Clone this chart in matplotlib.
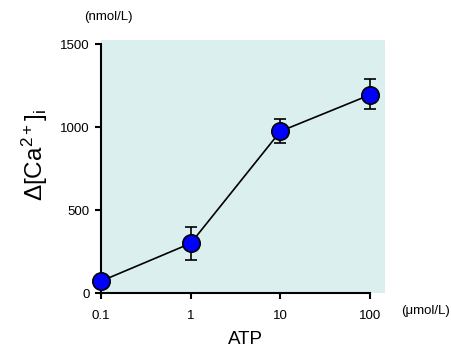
import matplotlib
matplotlib.use("Agg")
import matplotlib.pyplot as plt

plt.rcParams['font.family'] = ['Liberation Sans', 'DejaVu Sans']

# ATP dose response
atp = [0.1, 1, 10, 100]
dca = [72, 300, 975, 1195]
err_lo = [0, 100, 72, 87]
err_hi = [0, 100, 75, 95]
yticks = [0, 500, 1000, 1500]
xticks = [0.1, 1, 10, 100]
xticklabels = ["0.1", "1", "10", "100"]

fig = plt.figure(figsize=(4.51, 3.51), dpi=100)
ax = fig.add_axes([0.224, 0.165, 0.63, 0.721])
ax.set_facecolor("#dbefee")

ax.errorbar(atp, dca, yerr=[err_lo, err_hi], color="black", linewidth=1.2,
            elinewidth=1.2, capsize=4, capthick=1.2, marker="o", markersize=12.5,
            markerfacecolor="#0000ff", markeredgecolor="black", markeredgewidth=1.2,
            zorder=3, clip_on=False)

ax.set_xscale("log")
ax.set_xlim(0.1, 147)
ax.set_ylim(0, 1525)
ax.set_xticks(xticks)
ax.set_xticklabels(xticklabels)
ax.minorticks_off()
ax.set_yticks(yticks)

for s in ["top", "right"]:
    ax.spines[s].set_visible(False)
ax.spines["left"].set_bounds(0, 1500)
ax.spines["bottom"].set_bounds(0.1, 100)
ax.spines["left"].set_linewidth(1.5)
ax.spines["bottom"].set_linewidth(1.5)
ax.tick_params(direction="out", length=4, width=1.5, labelsize=9.5)
ax.tick_params(axis="x", pad=8)
ax.tick_params(axis="y", pad=4)

ax.set_ylabel("Δ[Ca$\\mathregular{^{2+}}$]$\\mathregular{_i}$", fontsize=17.5)
ax.yaxis.set_label_coords(-0.18, 0.545)
ax.set_xlabel("ATP", fontsize=13.5)
ax.xaxis.set_label_coords(0.507, -0.15)

fig.text(108 / 451, 1 - 17 / 351, "(nmol/L)", fontsize=9.5, ha="center", va="center")
fig.text(426 / 451, 1 - 311 / 351, "(μmol/L)", fontsize=9.5, ha="center", va="center")

fig.savefig("out.png", dpi=100)
